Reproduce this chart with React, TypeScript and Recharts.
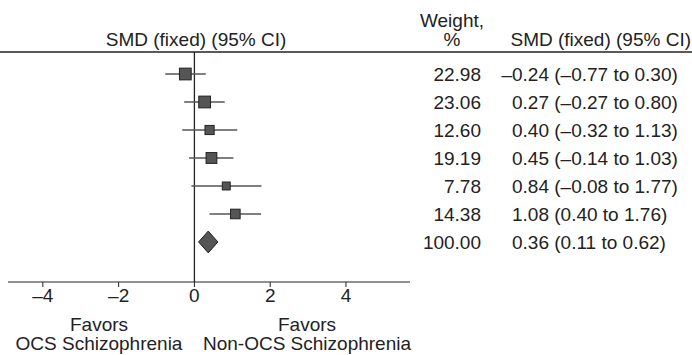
import React from 'react';
import { ComposedChart, Scatter, XAxis, YAxis, ErrorBar, ReferenceLine, ReferenceArea } from 'recharts';

// study rows, top to bottom
const weights = [22.98, 23.06, 12.6, 19.19, 7.78, 14.38];
const smd = [-0.24, 0.27, 0.4, 0.45, 0.84, 1.08];
const lower = [-0.77, -0.27, -0.32, -0.14, -0.08, 0.4];
const upper = [0.3, 0.8, 1.13, 1.03, 1.77, 1.76];

// pooled (fixed effect)
const pooledWeight = 100;
const pooledSmd = 0.36;
const pooledCi = [0.11, 0.62];

const xTicks = [-4, -2, 0, 2, 4];

const FONT = '"Liberation Sans", Arial, Helvetica, sans-serif';
const FS = 19;
const INK = '#222';
const BOX = '#555';

const studies = weights.map((w, i) => ({
  row: i,
  weight: w,
  smd: smd[i],
  lower: lower[i],
  upper: upper[i],
  err: [smd[i] - lower[i], upper[i] - smd[i]],
}));

const tableRows = [
  ...studies,
  { row: studies.length, weight: pooledWeight, smd: pooledSmd, lower: pooledCi[0], upper: pooledCi[1] },
];
const pooledRow = studies.length;

const fmt = (v: number) => v.toFixed(2).replace('-', '\u2013');

const StudyBox = (props: any) => {
  const { cx, cy, payload } = props;
  const s = 6 + payload.weight * 0.25;
  return <rect x={cx - s / 2} y={cy - s / 2} width={s} height={s} fill={BOX} stroke={INK} strokeWidth={1} />;
};

const Diamond = (props: any) => {
  const { x, y, width, height } = props;
  const pts = [
    [x, y + height / 2],
    [x + width / 2, y],
    [x + width, y + height / 2],
    [x + width / 2, y + height],
  ].map((p) => p.join(',')).join(' ');
  return <polygon points={pts} fill={BOX} stroke={INK} strokeWidth={1} />;
};

const RowTick = (props: any) => {
  const { x, y, payload } = props;
  const r = tableRows[payload.value];
  if (!r) return null;
  const neg = r.smd < 0;
  return (
    <g fontFamily={FONT} fontSize={FS} fill={INK}>
      <text x={x + 71} y={y} dy="0.35em" textAnchor="end" fill={INK}>{r.weight.toFixed(2)}</text>
      <text x={x + 102 - (neg ? FS * 0.556 : 0)} y={y} dy="0.35em" textAnchor="start" fill={INK}>
        {`${fmt(r.smd)} (${fmt(r.lower)} to ${fmt(r.upper)})`}
      </text>
    </g>
  );
};

const txt = { fontFamily: FONT, fontSize: FS, fill: INK };

export default function App() {
  return (
    <div style={{ position: 'absolute', left: 0, top: 0, width: 692, height: 355, background: '#fff' }}>
      <ComposedChart width={692} height={355} data={studies} margin={{ top: 52, right: 0, bottom: 0, left: 8 }} style={{ fontFamily: FONT }}>
        <XAxis
          type="number"
          dataKey="smd"
          domain={[-4.92, 5.69]}
          ticks={xTicks}
          allowDataOverflow
          height={73}
          tickSize={5}
          tickMargin={2}
          stroke={INK}
          tick={{ fontSize: FS, fill: INK, fontFamily: FONT }}
          tickFormatter={(v: number) => String(v).replace('-', '\u2013')}
        />
        <YAxis
          type="number"
          dataKey="row"
          orientation="right"
          reversed
          domain={[-0.786, 7.43]}
          ticks={tableRows.map((r) => r.row)}
          allowDataOverflow
          width={282}
          axisLine={false}
          tickLine={false}
          tickSize={0}
          tickMargin={0}
          tick={<RowTick />}
        />
        <ReferenceLine x={0} stroke={INK} strokeWidth={1.3} />
        <Scatter data={studies} dataKey="row" shape={<StudyBox />} isAnimationActive={false}>
          <ErrorBar dataKey="err" direction="x" width={0} stroke={BOX} strokeWidth={1.5} />
        </Scatter>
        <ReferenceArea
          x1={pooledCi[0]}
          x2={pooledCi[1]}
          y1={pooledRow - 0.39}
          y2={pooledRow + 0.39}
          shape={<Diamond />}
        />
        <g>
          <line x1={0} x2={692} y1={52} y2={52} stroke={INK} strokeWidth={1.3} />
          <text x={196} y={46} textAnchor="middle" {...txt}>SMD (fixed) (95% CI)</text>
          <text x={452} y={27} textAnchor="middle" {...txt}>Weight,</text>
          <text x={452} y={46} textAnchor="middle" {...txt}>%</text>
          <text x={691} y={46} textAnchor="end" {...txt}>SMD (fixed) (95% CI)</text>
          <text x={99} y={331} textAnchor="middle" {...txt}>Favors</text>
          <text x={99} y={350} textAnchor="middle" {...txt}>OCS Schizophrenia</text>
          <text x={307} y={331} textAnchor="middle" {...txt}>Favors</text>
          <text x={307} y={350} textAnchor="middle" {...txt}>Non-OCS Schizophrenia</text>
        </g>
      </ComposedChart>
    </div>
  );
}
